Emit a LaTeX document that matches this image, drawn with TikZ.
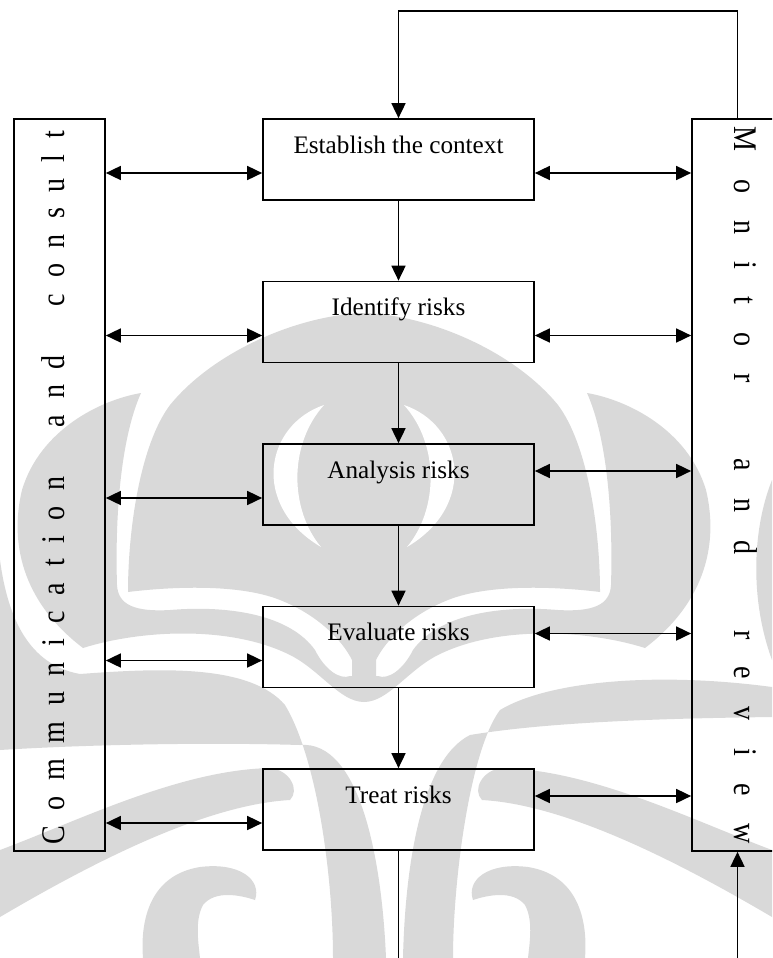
\documentclass[tikz,border=0pt]{standalone}
\usepackage{fontspec}
\usepackage{graphicx}
\setmainfont{Liberation Serif}
\usetikzlibrary{arrows.meta}

% letter spacing for the two vertical captions
\newcommand\lk{\kern9.2pt}
\newcommand\lw{\kern29pt}
\newcommand\rk{\kern16.1pt}
\newcommand\rw{\kern44.7pt}

\begin{document}
\begin{tikzpicture}[x=0.5pt,y=-0.5pt,
  stepbox/.style={draw, line width=0.85pt, rectangle, minimum width=135.5pt,
    inner xsep=0pt, inner ysep=0pt, text height=17pt, text depth=23.5pt,
    font=\fontsize{12.6}{15}\selectfont},
  sidebox/.style={draw, line width=0.85pt, rectangle, minimum width=45.5pt,
    minimum height=366pt, inner sep=0pt},
  sidetext/.style={inner sep=0pt, anchor=base, font=\fontsize{16.5}{20}\selectfont},
  link/.style={line width=0.85pt,
    {Triangle[length=7.5pt,width=7pt]}-{Triangle[length=7.5pt,width=7pt]}},
  flow/.style={line width=0.85pt, -{Triangle[length=7.5pt,width=7pt]}},
  plain/.style={line width=0.85pt},
  wm/.style={fill=black!15, draw=none},
  wmhole/.style={fill=white, draw=none}]

\useasboundingbox (0,0) rectangle (772,958);
\clip (0,0) rectangle (772,958);

% ---- background emblem ----
% dome with its central stem
\path[wm] (364,313) .. controls (300,315) and (215,350) .. (170,405)
  .. controls (140,445) and (128,530) .. (128,592)
  .. controls (160,588) and (235,582) .. (280,600)
  .. controls (318,615) and (342,640) .. (352,660)
  -- (352,690) -- (376,690) -- (376,660)
  .. controls (386,640) and (410,615) .. (448,600)
  .. controls (493,582) and (568,588) .. (600,592)
  .. controls (600,530) and (588,445) .. (558,405)
  .. controls (513,350) and (428,315) .. (364,313) -- cycle;
% horns, joined under the dome
\path[wm] (141,393) .. controls (100,400) and (40,430) .. (22,490)
  .. controls (10,540) and (20,600) .. (83,648)
  .. controls (140,630) and (230,625) .. (290,655)
  .. controls (320,670) and (340,702) .. (364,702)
  .. controls (388,702) and (408,670) .. (438,655)
  .. controls (498,625) and (588,630) .. (645,648)
  .. controls (708,600) and (718,540) .. (706,490)
  .. controls (688,430) and (628,400) .. (587,393)
  .. controls (608,440) and (613,520) .. (611,585)
  .. controls (610,605) and (593,612) .. (558,610)
  .. controls (498,605) and (438,615) .. (413,650)
  .. controls (403,670) and (388,680) .. (378,676)
  -- (350,676)
  .. controls (340,680) and (325,670) .. (315,650)
  .. controls (290,615) and (230,605) .. (170,610)
  .. controls (135,612) and (118,605) .. (117,585)
  .. controls (115,520) and (120,440) .. (141,393) -- cycle;
\path[wm] (772,480) .. controls (752,530) and (750,600) .. (772,660) -- cycle;
% inner crescents
\path[wmhole] (324,405) .. controls (265,425) and (250,505) .. (321,547)
  .. controls (290,510) and (288,445) .. (324,405) -- cycle;
\path[wmhole] (404,405) .. controls (463,425) and (478,505) .. (407,547)
  .. controls (438,510) and (440,445) .. (404,405) -- cycle;
% sweeping bands
\path[wm] (0,560) .. controls (8,620) and (30,665) .. (80,674)
  .. controls (160,668) and (250,664) .. (285,705)
  .. controls (318,760) and (333,880) .. (333,958) -- (386,958)
  .. controls (382,860) and (360,740) .. (300,745)
  .. controls (200,742) and (80,745) .. (0,750) -- cycle;
\path[wm] (772,687) .. controls (660,672) and (550,680) .. (500,710)
  .. controls (470,750) and (453,880) .. (453,958) -- (403,958)
  .. controls (405,870) and (420,760) .. (470,735)
  .. controls (560,720) and (700,718) .. (772,717) -- cycle;
\path[wm] (0,850) .. controls (80,820) and (180,770) .. (270,768)
  .. controls (290,770) and (300,790) .. (290,800)
  .. controls (200,805) and (80,870) .. (0,917) -- cycle;
\path[wm] (772,850) .. controls (692,820) and (592,770) .. (502,768)
  .. controls (482,770) and (472,790) .. (482,800)
  .. controls (572,805) and (692,870) .. (772,917) -- cycle;
% curls at the foot
\path[wm] (143,958) .. controls (140,920) and (150,875) .. (200,867)
  .. controls (240,862) and (262,880) .. (255,900)
  .. controls (240,895) and (215,890) .. (203,905)
  .. controls (195,920) and (198,940) .. (200,958) -- cycle;
\path[wm] (585,958) .. controls (588,920) and (578,875) .. (528,867)
  .. controls (488,862) and (466,880) .. (473,900)
  .. controls (488,895) and (513,890) .. (525,905)
  .. controls (533,920) and (530,940) .. (528,958) -- cycle;

% ---- process steps ----
\node[stepbox] (ctx) at (398.5,159.5) {Establish the context};
\node[stepbox] (idf) at (398.5,322)   {Identify risks};
\node[stepbox] (ana) at (398.5,484.5) {Analysis risks};
\node[stepbox] (evl) at (398.5,647)   {Evaluate risks};
\node[stepbox] (trt) at (398.5,809.5) {Treat risks};

% ---- side columns ----
\node[sidebox] (cc) at (59.5,485) {};
\node[sidebox] (mr) at (737.5,485) {};
\node[sidetext, rotate=90] (cctext) at (64,488) {\scalebox{0.85}[1]{C\lk o\lk m\lk m\lk u\lk n\lk i\lk c\lk a\lk t\lk i\lk o\lk n\lw a\lk n\lk d\lw c\lk o\lk n\lk s\lk u\lk l\lk t}};
\node[sidetext, rotate=-90] (mrtext) at (734,485) {\scalebox{0.85}[1]{M\rk o\rk n\rk i\rk t\rk o\rk r\rw a\rk n\rk d\rw r\rk e\rk v\rk i\rk e\rk w}};

% ---- main flow ----
\draw[flow] (ctx.south) -- (idf.north);
\draw[flow] (idf.south) -- (ana.north);
\draw[flow] (ana.south) -- (evl.north);
\draw[flow] (evl.south) -- (trt.north);
\coordinate (footL) at (398.5,958);
\draw[plain] (trt.south) -- (footL);

% feedback loop over the top
\coordinate (topR) at (737.5,11);
\coordinate (topL) at (398.5,11);
\draw[flow] (mr.north) -- (topR) -- (topL) -- (ctx.north);
\coordinate (footR) at (737.5,958);
\draw[flow] (footR) -- (mr.south);

% ---- communication links (left) ----
\foreach \b in {ctx,idf,ana,evl,trt}{
  \coordinate (l-\b) at ([yshift=-6.75pt]\b.west);
  \draw[link] (cc.east |- l-\b) -- (l-\b);
}
% ---- monitoring links (right) ----
\foreach \b in {ctx,idf}{
  \coordinate (r-\b) at ([yshift=-6.75pt]\b.east);
  \draw[link] (r-\b) -- (mr.west |- r-\b);
}
\foreach \b in {ana,evl,trt}{
  \coordinate (r-\b) at ([yshift=6.75pt]\b.east);
  \draw[link] (r-\b) -- (mr.west |- r-\b);
}
\end{tikzpicture}
\end{document}
